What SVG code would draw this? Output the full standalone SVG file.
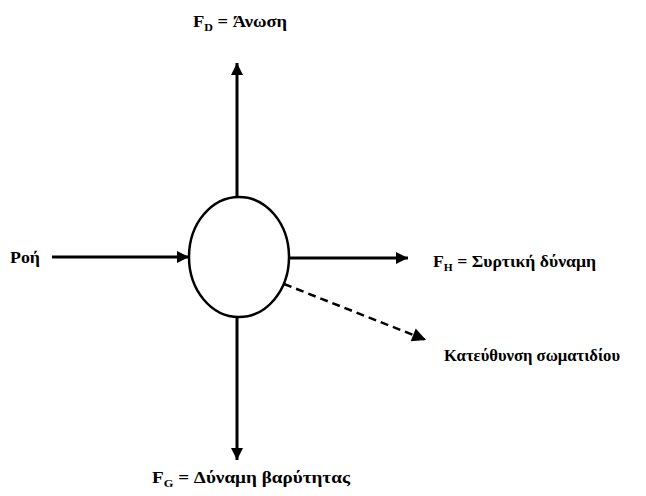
<svg xmlns="http://www.w3.org/2000/svg" width="646" height="496" viewBox="0 0 646 496">
<style>
.t{font-family:"Liberation Serif","Times New Roman",serif;font-weight:bold;font-size:17px;fill:#000}
.s{font-size:11px}
.c{stroke:#000;stroke-width:3;fill:none}
.d{stroke:#000;stroke-width:2.5;fill:none;stroke-dasharray:8 5}
</style>
<defs>
<marker id="ah" viewBox="0 0 10 10" refX="10" refY="5" markerWidth="6" markerHeight="4" orient="auto" markerUnits="strokeWidth">
<path d="M0,0 L10,5 L0,10 z" fill="#000"/>
</marker>
<marker id="ah2" viewBox="0 0 10 10" refX="10" refY="5" markerWidth="8" markerHeight="5.5" orient="auto" markerUnits="strokeWidth">
<path d="M0,0 L10,5 L0,10 z" fill="#000"/>
</marker>
</defs>
<rect width="646" height="496" fill="#fff"/>
<g id="particle">
<ellipse cx="239" cy="257" rx="50" ry="60" fill="none" stroke="#000" stroke-width="2.5"/>
</g>
<g id="connectors">
<line class="c" x1="237" y1="197" x2="237" y2="63" marker-end="url(#ah)"/>
<line class="c" x1="52" y1="257" x2="189" y2="257" marker-end="url(#ah)"/>
<line class="c" x1="289" y1="258" x2="408" y2="258" marker-end="url(#ah)"/>
<line class="c" x1="237" y1="317" x2="237" y2="460" marker-end="url(#ah)"/>
<line class="d" x1="284" y1="284" x2="426" y2="340" marker-end="url(#ah2)"/>
</g>
<g id="label-fd">
<text class="t" x="193" y="27" textLength="94" lengthAdjust="spacingAndGlyphs">F<tspan class="s" dy="4">D</tspan><tspan dy="-4"> = Άνωση</tspan></text>
</g>
<g id="label-flow">
<text class="t" x="10" y="263" textLength="30" lengthAdjust="spacingAndGlyphs">Ροή</text>
</g>
<g id="label-fh">
<text class="t" x="433" y="267" textLength="163" lengthAdjust="spacingAndGlyphs">F<tspan class="s" dy="4">H</tspan><tspan dy="-4"> = Συρτική δύναμη</tspan></text>
</g>
<g id="label-dir">
<text class="t" x="444" y="361" textLength="176" lengthAdjust="spacingAndGlyphs">Κατεύθυνση σωματιδίου</text>
</g>
<g id="label-fg">
<text class="t" x="152" y="483" textLength="198" lengthAdjust="spacingAndGlyphs">F<tspan class="s" dy="4">G</tspan><tspan dy="-4"> = Δύναμη βαρύτητας</tspan></text>
</g>
</svg>
